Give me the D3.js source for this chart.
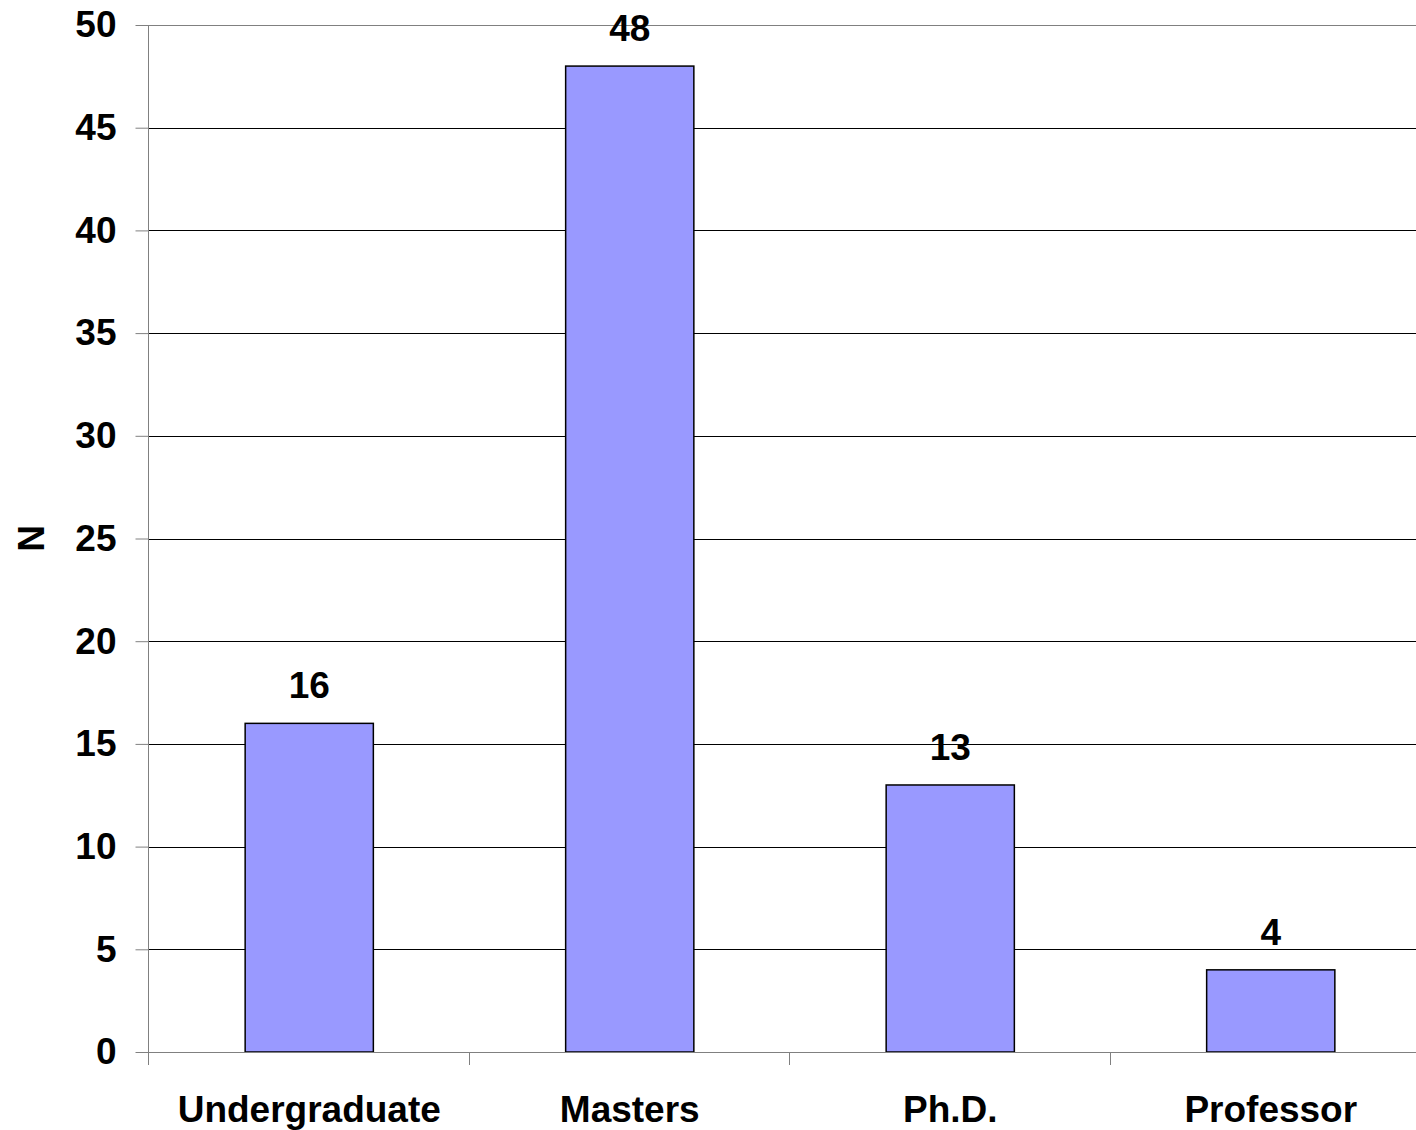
<!DOCTYPE html>
<html>
<head>
<meta charset="utf-8">
<script src="https://cdn.jsdelivr.net/npm/d3@7"></script>
<style>
  html, body { margin: 0; padding: 0; background: #fff; }
  svg { display: block; }
  text { font-family: "Liberation Sans", Arial, sans-serif; font-weight: bold; fill: #000; }
</style>
</head>
<body>
<svg id="chart" width="1416" height="1130"></svg>
<script>
// Respondents by academic level
const categories = ["Undergraduate", "Masters", "Ph.D.", "Professor"];
const counts = [16, 48, 13, 4];
const yTicks = [0, 5, 10, 15, 20, 25, 30, 35, 40, 45, 50];
const yTitle = "N";

const svg = d3.select("#chart");
const plotLeft = 149, plotTop = 25, plotBottom = 1052, plotRight = 1431;

const x = d3.scaleBand()
  .domain(categories)
  .range([plotLeft, plotRight])
  .paddingInner(0.6)
  .paddingOuter(0.3);

const y = d3.scaleLinear().domain([0, 50]).range([plotBottom, plotTop]);

// horizontal gridlines
svg.append("g")
  .selectAll("line")
  .data(yTicks.filter(d => d > 0))
  .join("line")
  .attr("x1", plotLeft).attr("x2", 1416)
  .attr("y1", d => Math.round(y(d)) + 0.5).attr("y2", d => Math.round(y(d)) + 0.5)
  .attr("stroke", d => d === 50 ? "#808080" : "#000")
  .attr("stroke-width", 1);

// bars
svg.append("g")
  .selectAll("rect")
  .data(categories)
  .join("rect")
  .attr("x", d => x(d))
  .attr("y", (d, i) => y(counts[i]))
  .attr("width", x.bandwidth())
  .attr("height", (d, i) => y(0) - y(counts[i]))
  .attr("fill", "#9999FF")
  .attr("stroke", "#000")
  .attr("stroke-width", 1.5);

// value labels
svg.append("g")
  .selectAll("text")
  .data(categories)
  .join("text")
  .attr("x", d => x(d) + x.bandwidth() / 2)
  .attr("y", (d, i) => y(counts[i]) - 25)
  .attr("text-anchor", "middle")
  .attr("font-size", 37)
  .text((d, i) => counts[i]);

// y axis
const yAxis = svg.append("g")
  .attr("transform", `translate(${plotLeft - 0.5},0)`)
  .call(d3.axisLeft(y).tickValues(yTicks).tickSize(13).tickPadding(19));
yAxis.select(".domain").attr("stroke", "#808080").attr("d", `M0,${plotTop}V${plotBottom}`);
yAxis.selectAll(".tick line").attr("stroke", "#808080");
yAxis.selectAll(".tick text")
  .attr("font-size", 37)
  .attr("font-family", "Liberation Sans, Arial, sans-serif")
  .attr("font-weight", "bold")
  .attr("fill", "#000");

// x axis
const step = x.step();
const boundaries = d3.range(categories.length + 1).map(i => plotLeft + i * step);
const xAxisG = svg.append("g");
xAxisG.append("line")
  .attr("x1", plotLeft - 13).attr("x2", 1416)
  .attr("y1", plotBottom + 0.5).attr("y2", plotBottom + 0.5)
  .attr("stroke", "#808080");
xAxisG.selectAll("line.tk")
  .data(boundaries)
  .join("line")
  .attr("class", "tk")
  .attr("x1", d => Math.round(d) - 0.5).attr("x2", d => Math.round(d) - 0.5)
  .attr("y1", plotBottom).attr("y2", plotBottom + 13)
  .attr("stroke", "#808080");
xAxisG.selectAll("text")
  .data(categories)
  .join("text")
  .attr("x", d => x(d) + x.bandwidth() / 2)
  .attr("y", 1122)
  .attr("text-anchor", "middle")
  .attr("font-size", 37)
  .text(d => d);

// y axis title
svg.append("text")
  .attr("transform", `translate(44,${(plotTop + plotBottom) / 2}) rotate(-90)`)
  .attr("text-anchor", "middle")
  .attr("font-size", 37)
  .text(yTitle);
</script>
</body>
</html>
